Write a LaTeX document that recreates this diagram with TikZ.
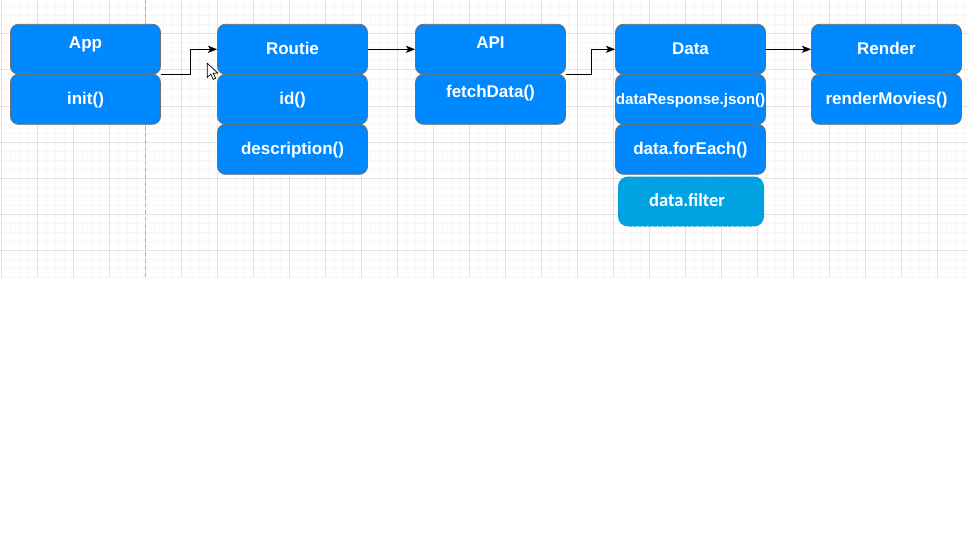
\documentclass[tikz,border=0pt]{standalone}
\usepackage{fontspec}
\setmainfont{Liberation Sans}
\newfontfamily\calfont{Carlito}
\usetikzlibrary{arrows.meta}
\definecolor{boxblue}{RGB}{0,136,255}
\definecolor{filterblue}{RGB}{0,162,226}
\definecolor{boxline}{RGB}{110,110,110}
\definecolor{gridminor}{RGB}{247,247,247}
\definecolor{gridmajor}{RGB}{226,226,226}
\definecolor{dashgray}{RGB}{175,175,175}
\begin{document}
\begin{tikzpicture}[x=1pt,y=-1pt,
  box/.style={draw=boxline, line width=0.8pt, fill=boxblue, rounded corners=8pt,
    minimum width=150pt, minimum height=50pt, inner sep=0pt, text=white,
    text height=14pt, text depth=3.5pt,
    font=\bfseries\fontsize{17}{19}\selectfont},
  lbl/.style={inner sep=0pt, text=white, text height=14pt, text depth=3.5pt,
    font=\bfseries\fontsize{17}{19}\selectfont},
  filterbox/.style={fill=filterblue, rounded corners=10pt, minimum width=146pt,
    minimum height=50pt, inner sep=0pt},
  filterlbl/.style={inner sep=0pt, text=white, font=\calfont\bfseries\fontsize{18.5}{20}\selectfont},
  arr/.style={draw=black, line width=0.8pt, -{Stealth[length=9pt,width=7pt,inset=2pt]}},
  minorline/.style={draw=gridminor, line width=1pt},
  majorline/.style={draw=gridmajor, line width=1pt},
]
\useasboundingbox (0,0) rectangle (969,535);
\fill[white] (0,0) rectangle (969,535);
% grid
\foreach \x in {1,10,...,969} \draw[minorline] (\x,0) -- (\x,277);
\foreach \y in {7,16,...,277} \draw[minorline] (0,\y) -- (969,\y);
\foreach \x in {1,37,...,969} \draw[majorline] (\x,0) -- (\x,277);
\foreach \y in {34,70,...,277} \draw[majorline] (0,\y) -- (969,\y);
\draw[dashgray, line width=1pt, dash pattern=on 4pt off 3pt] (145.5,0) -- (145.5,277);

% App
\node[box] (app) at (85.5,49.3) {};
\node[lbl] (applbl) at (85.5,43) {App};
\node[box] (init) at (85.5,99.3) {init()};
% Routie
\node[box] (routie) at (292.5,49.3) {Routie};
\node[box] (id) at (292.5,99.3) {id()};
\node[box] (desc) at (292.5,149.3) {description()};
% API
\node[box] (api) at (490.5,49.3) {};
\node[lbl] (apilbl) at (490.5,43) {API};
\node[box] (fetch) at (490.5,99.3) {};
\node[lbl] (fetchlbl) at (490.5,92) {fetchData()};
% Data
\node[box] (data) at (690.5,49.3) {Data};
\node[box, font=\bfseries\fontsize{15.2}{17}\selectfont] (json) at (690.5,99.3) {dataResponse.json()};
\node[box] (foreach) at (690.5,149.3) {data.forEach()};
\node[filterbox] (filter) at (691,201.5) {};
\node[filterlbl] (filterlabel) at (687,200.5) {data.filter};
\draw[white, line width=1.2pt, dash pattern=on 1pt off 4pt] ([xshift=9pt,yshift=0.6pt]filter.south west) -- ([xshift=-9pt,yshift=0.6pt]filter.south east);
% Render
\node[box] (render) at (886.5,49.3) {Render};
\node[box] (movies) at (886.5,99.3) {renderMovies()};

% connectors
\draw[arr] (app.south east) -- ++(29,0) |- (routie.west);
\draw[arr] (routie.east) -- (api.west);
\draw[arr] (api.south east) -- ++(25,0) |- (data.west);
\draw[arr] (data.east) -- (render.west);

% mouse cursor
\filldraw[fill=white, draw=black, line width=0.7pt, line join=miter]
  (207.3,63.3) -- ++(0,14) -- ++(3.4,-3.1) -- ++(2.6,5.2) -- ++(2.4,-1.1) -- ++(-2.5,-5) -- ++(4.6,-0.3) -- cycle;
\end{tikzpicture}
\end{document}
